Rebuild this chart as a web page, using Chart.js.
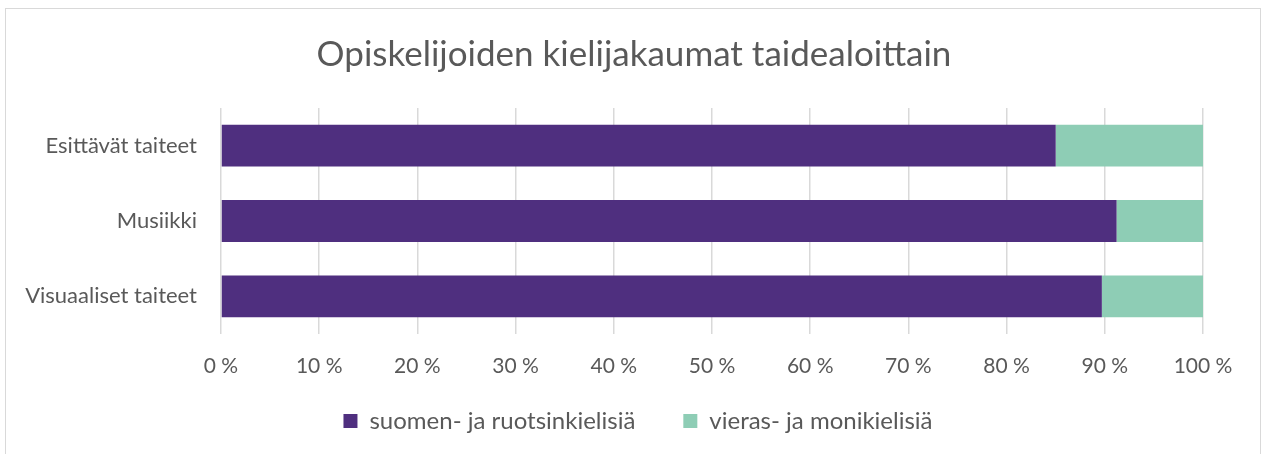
<!DOCTYPE html>
<html><head><meta charset="utf-8">
<script src="https://cdn.jsdelivr.net/npm/chart.js@4.4.1/dist/chart.umd.min.js"></script>
<style>html,body{margin:0;padding:0;background:#fff}#wrap{width:1262px;height:454px;position:relative}</style>
</head><body><div id="wrap"><canvas id="c" width="1262" height="454"></canvas></div>
<script>
const categories = ["Esittävät taiteet", "Musiikki", "Visuaaliset taiteet"];
const seriesNames = ["suomen- ja ruotsinkielisiä", "vieras- ja monikielisiä"];
const finnSwed = [85.0, 91.2, 89.7];
const foreignMulti = [15.0, 8.8, 10.3];
const titleText = "Opiskelijoiden kielijakaumat taidealoittain";
const FONT = "Lato, 'Open Sans', sans-serif";
const TXT = "#595959";

const borderPlugin = {
  id: 'outerBorder',
  beforeDraw(chart) {
    const ctx = chart.ctx;
    ctx.save();
    ctx.fillStyle = '#fff';
    ctx.fillRect(0, 0, chart.width, chart.height);
    ctx.strokeStyle = '#d9d9d9';
    ctx.lineWidth = 1;
    ctx.strokeRect(5.5, 8.5, 1255, 460);
    ctx.restore();
  },
  afterLayout(chart) {
    if (chart.titleBlock) { chart.titleBlock.left = 6; chart.titleBlock.right = 1262; chart.titleBlock.width = 1256; }
    if (chart.legend) {
      const lg = chart.legend;
      const h = lg.height;
      lg.left = 14; lg.right = 1262; lg.width = 1248;
      lg.top = 361; lg.bottom = 361 + h;
    }
  }
};

new Chart(document.getElementById('c'), {
  type: 'bar',
  data: {
    labels: categories,
    datasets: [
      { label: seriesNames[0], data: finnSwed, backgroundColor: '#4F2F7F', borderWidth: 0, categoryPercentage: 0.555, barPercentage: 1 },
      { label: seriesNames[1], data: foreignMulti, backgroundColor: '#8ECDB5', borderWidth: 0, categoryPercentage: 0.555, barPercentage: 1 }
    ]
  },
  options: {
    indexAxis: 'y',
    responsive: false,
    animation: false,
    devicePixelRatio: 1,
    layout: { padding: { left: 0, right: 59, top: 9, bottom: -12 } },
    plugins: {
      title: { display: true, text: titleText, color: TXT, font: { family: FONT, size: 35, weight: 'normal' }, padding: { top: 25, bottom: 32 } },
      legend: { position: 'bottom', labels: { color: TXT, font: { family: FONT, size: 24 }, boxWidth: 14, boxHeight: 14, padding: 48 } },
      tooltip: { enabled: false }
    },
    scales: {
      x: {
        stacked: true, min: 0, max: 100,
        ticks: { stepSize: 10, color: TXT, font: { family: FONT, size: 21 }, padding: 20, callback: v => v + ' %' },
        grid: { color: '#d9d9d9', lineWidth: 1.5, drawTicks: false },
        border: { display: false },
        afterFit(s) { s.height = 50; }
      },
      y: {
        stacked: true,
        ticks: { color: TXT, font: { family: FONT, size: 22 }, padding: 24 },
        grid: { display: false, drawTicks: false },
        border: { display: false },
        afterFit(s) { s.width = 221; }
      }
    }
  },
  plugins: [borderPlugin]
});
</script></body></html>
